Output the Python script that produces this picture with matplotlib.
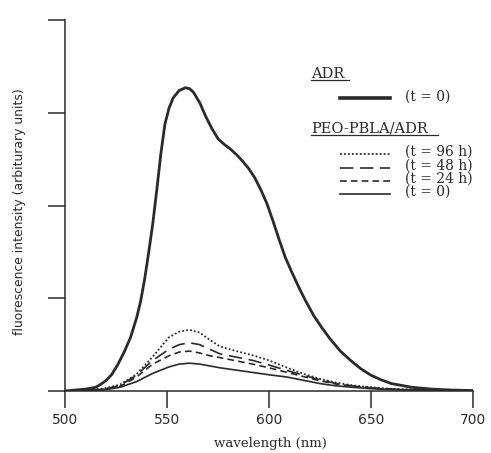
import matplotlib
matplotlib.use("Agg")
import matplotlib.pyplot as plt
from matplotlib.lines import Line2D

# ---- data ----
adr_wl = [500, 505, 510, 515, 517, 520, 523, 526, 529, 532, 535, 537, 539, 541,
          543, 545, 547, 549, 551, 553, 556, 559, 561, 563, 566, 569, 572, 575,
          578, 581, 584, 587, 590, 593, 596, 599, 602, 605, 608, 611, 615, 618,
          622, 626, 630, 635, 640, 645, 650, 655, 660, 670, 680, 690, 700]
adr_val = [0.0, 0.01, 0.02, 0.04, 0.065, 0.11, 0.18, 0.29, 0.42, 0.57, 0.78, 0.96,
           1.20, 1.49, 1.80, 2.17, 2.56, 2.88, 3.05, 3.16, 3.24, 3.27, 3.26, 3.22,
           3.11, 2.96, 2.83, 2.72, 2.66, 2.61, 2.55, 2.48, 2.40, 2.30, 2.17, 2.02,
           1.83, 1.63, 1.44, 1.29, 1.10, 0.97, 0.81, 0.68, 0.56, 0.43, 0.33, 0.24,
           0.17, 0.12, 0.08, 0.04, 0.02, 0.01, 0.005]

peo_wl = [500, 510, 520, 527, 535, 543, 551, 556, 561, 566, 571, 576, 584, 592,
          600, 609, 617, 625, 633, 641, 650, 660, 675, 690, 700]
peo_96h = [0.0, 0.005, 0.03, 0.07, 0.18, 0.37, 0.58, 0.64, 0.66, 0.63, 0.55, 0.48,
           0.43, 0.385, 0.33, 0.25, 0.185, 0.13, 0.09, 0.06, 0.04, 0.022, 0.012,
           0.006, 0.0]
peo_48h = [0.0, 0.005, 0.025, 0.06, 0.17, 0.33, 0.45, 0.50, 0.52, 0.50, 0.45, 0.40,
           0.365, 0.33, 0.28, 0.22, 0.17, 0.12, 0.08, 0.055, 0.035, 0.02, 0.01,
           0.005, 0.0]
peo_24h = [0.0, 0.005, 0.02, 0.05, 0.15, 0.29, 0.38, 0.42, 0.43, 0.41, 0.38, 0.36,
           0.325, 0.29, 0.25, 0.20, 0.155, 0.11, 0.075, 0.05, 0.03, 0.018, 0.01,
           0.005, 0.0]
peo_0h = [0.0, 0.005, 0.015, 0.04, 0.10, 0.19, 0.26, 0.29, 0.30, 0.29, 0.27, 0.25,
          0.225, 0.20, 0.175, 0.15, 0.115, 0.08, 0.055, 0.04, 0.025, 0.015, 0.008,
          0.004, 0.0]

x_ticks = [500, 550, 600, 650, 700]
y_ticks = [0, 1, 2, 3, 4]

peo_labels = ["(t = 96 h)", "(t = 48 h)", "(t = 24 h)", "(t = 0)"]
adr_label = "(t = 0)"

ink = "#2a2a2a"
serif = "DejaVu Serif"
sans = "DejaVu Sans"

fig = plt.figure(figsize=(4.91, 4.53), dpi=100)
ax = fig.add_axes([65 / 491, 1 - 391 / 453, 408 / 491, 371 / 453])

styles = [
    dict(ls=(0, (1, 1.2)), lw=1.3),
    dict(ls=(0, (8, 4)), lw=1.2),
    dict(ls=(0, (4, 2.5)), lw=1.2),
    dict(ls="-", lw=1.2),
]
series = [peo_96h, peo_48h, peo_24h, peo_0h]

ax.plot(adr_wl, adr_val, color=ink, lw=2.0, solid_joinstyle="round")
for vals, st in zip(series, styles):
    ax.plot(peo_wl, vals, color=ink, **st)

ax.set_xlim(500, 700)
ax.set_ylim(0, 4)
ax.set_xticks(x_ticks)
ax.set_yticks(y_ticks)
ax.set_yticklabels([])
for s in ["top", "right"]:
    ax.spines[s].set_visible(False)
for s in ["left", "bottom"]:
    ax.spines[s].set_linewidth(1.1)
    ax.spines[s].set_color(ink)
ax.tick_params(axis="both", direction="out", length=12, width=1.1, color=ink)
ax.tick_params(axis="x", pad=4, labelsize=10, labelcolor=ink)
for lab in ax.get_xticklabels():
    lab.set_family(sans)

fig.text(270 / 491, 1 - 444 / 453, "wavelength (nm)", ha="center", va="center",
         fontsize=9.5, family=serif, color=ink)
fig.text(20 / 491, 1 - 212 / 453, "fluorescence intensity (arbiturary units)",
         ha="center", va="center", rotation=90, fontsize=8.9, family=sans, color=ink)

# ---- legend drawn by hand ----
def fy(py):
    return 1 - py / 453

def fx(px):
    return px / 491

fig.text(fx(311), fy(74), r"ADR", ha="left", va="center", fontsize=10.5,
         family=serif, color=ink)
fig.add_artist(Line2D([fx(311), fx(349)], [fy(80), fy(80)], color=ink, lw=0.9))
fig.add_artist(Line2D([fx(340), fx(390)], [fy(98), fy(98)], color=ink, lw=2.6))
fig.text(fx(405), fy(97), adr_label, ha="left", va="center", fontsize=10,
         family=serif, color=ink)

fig.text(fx(311), fy(128), "PEO-PBLA/ADR", ha="left", va="center", fontsize=10.5,
         family=serif, color=ink)
fig.add_artist(Line2D([fx(311), fx(438)], [fy(135), fy(135)], color=ink, lw=0.9))

ys = [152, 166, 179, 192]
for lab, st, y in zip(peo_labels, styles, ys):
    fig.add_artist(Line2D([fx(340), fx(390)], [fy(y + 2), fy(y + 2)], color=ink, **st))
    fig.text(fx(405), fy(y), lab, ha="left", va="center", fontsize=10,
             family=serif, color=ink)

fig.savefig("out.png", dpi=100)
